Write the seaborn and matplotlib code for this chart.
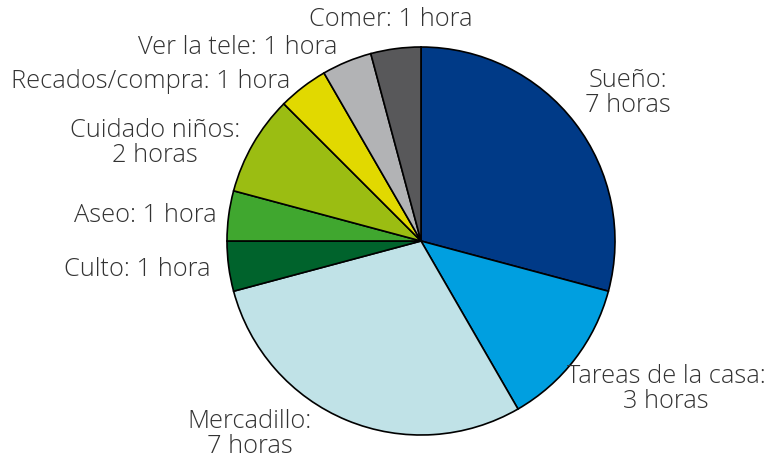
import matplotlib
matplotlib.use("Agg")
import matplotlib.pyplot as plt
import seaborn as sns

# hours per activity, clockwise from 12 o'clock
activities = ["Sueño", "Tareas de la casa", "Mercadillo", "Culto", "Aseo",
              "Cuidado niños", "Recados/compra", "Ver la tele", "Comer"]
hours = [7, 3, 7, 1, 1, 2, 1, 1, 1]
labels = ["Sueño:\n7 horas", "Tareas de la casa:\n3 horas", "Mercadillo:\n7 horas",
          "Culto: 1 hora", "Aseo: 1 hora", "Cuidado niños:\n2 horas",
          "Recados/compra: 1 hora", "Ver la tele: 1 hora", "Comer: 1 hora"]
colors = ["#003a87", "#009fe0", "#c0e2e7", "#00632c", "#40a72f",
          "#9bbd12", "#e1d900", "#b2b3b5", "#58585a"]

# label anchor in pixels (x, y, ha)
label_pos = [(628, 93, "center"), (666, 389, "center"), (250, 434, "center"),
             (211, 270, "right"), (217, 216, "right"), (155, 143, "center"),
             (290, 82, "right"), (337, 48, "right"), (391, 20, "center")]

sns.set_theme(style="white")
plt.rcParams["font.family"] = ["Open Sans", "DejaVu Sans"]

W, H = 784, 459
CX, CY, R = 421, 241, 194
fig = plt.figure(figsize=(W / 100, H / 100), dpi=100)
ax = fig.add_axes([0, 0, 1, 1])
ax.pie(hours, colors=colors, startangle=90, counterclock=False,
       wedgeprops=dict(edgecolor="black", linewidth=1.2))
ax.set_xlim(-CX / R, (W - CX) / R)
ax.set_ylim(-(H - CY) / R, CY / R)
ax.set_aspect("equal")
ax.axis("off")

for lab, (px, py, ha) in zip(labels, label_pos):
    ax.text((px - CX) / R, (CY - py) / R, lab, ha=ha, va="center",
            fontsize=18.3, fontweight="light", color="#333333",
            linespacing=0.97)

fig.savefig("out.png", dpi=100)
